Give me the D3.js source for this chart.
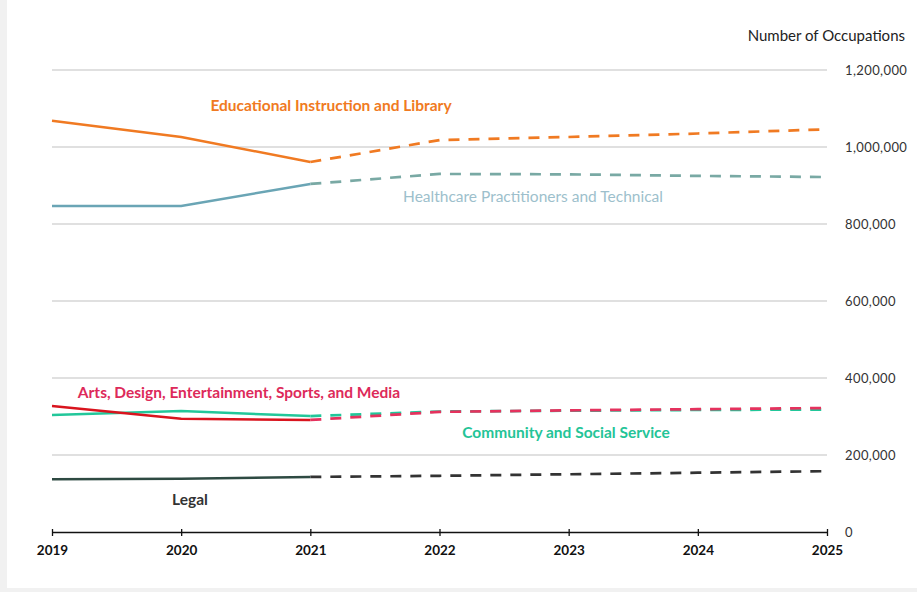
<!DOCTYPE html>
<html>
<head>
<meta charset="utf-8">
<script src="https://cdn.jsdelivr.net/npm/d3@7"></script>
<style>
  html, body { margin: 0; padding: 0; background: #f1f1f1; }
  svg { display: block; }
</style>
</head>
<body>
<svg id="chart" width="917" height="592"></svg>
<script>
const years = [2019, 2020, 2021, 2022, 2023, 2024, 2025];
const yTicks = [0, 200000, 400000, 600000, 800000, 1000000, 1200000];

const educational = [1068000, 1026000, 961000, 1018000, 1026000, 1035000, 1046000];
const healthcare  = [847000, 847000, 904000, 930000, 929000, 925000, 922000];
const arts        = [327000, 294000, 291000, 312000, 316000, 319000, 322000];
const community   = [304000, 314000, 301000, 313000, 315000, 317000, 318000];
const legal       = [137000, 138000, 143000, 146000, 150000, 154000, 158000];

const seriesNames = [
  "Educational Instruction and Library",
  "Healthcare Practitioners and Technical",
  "Arts, Design, Entertainment, Sports, and Media",
  "Community and Social Service",
  "Legal"
];
const actualLastYear = 2021;

const series = [
  { name: seriesNames[0], values: educational, color: "#f07a22", dashColor: "#f07a22", labelColor: "#f07a22", weight: "bold" },
  { name: seriesNames[1], values: healthcare,  color: "#6aa5b5", dashColor: "#79a9a4", labelColor: "#9dbfcc", weight: "normal" },
  { name: seriesNames[3], values: community,   color: "#22c79a", dashColor: "#22c79a", labelColor: "#24c497", weight: "bold" },
  { name: seriesNames[2], values: arts,        color: "#d9141e", dashColor: "#e5325e", labelColor: "#dd2a5a", weight: "bold" },
  { name: seriesNames[4], values: legal,       color: "#2e4a42", dashColor: "#333333", labelColor: "#333333", weight: "bold" }
];

const svg = d3.select("#chart");
svg.append("rect").attr("x", 7).attr("y", 0).attr("width", 910).attr("height", 588).attr("fill", "#ffffff");

const x = d3.scaleLinear().domain([2019, 2025]).range([52, 827]);
const y = d3.scaleLinear().domain([0, 1200000]).range([532, 70]);

const font = "Lato, 'Open Sans', sans-serif";

// gridlines
svg.append("g").selectAll("line")
  .data(yTicks.filter(d => d > 0))
  .join("line")
  .attr("x1", x(2019)).attr("x2", x(2025))
  .attr("y1", d => y(d)).attr("y2", d => y(d))
  .attr("stroke", "#d6d6d6").attr("stroke-width", 1.3);

// right tick labels
svg.append("g").selectAll("text")
  .data(yTicks)
  .join("text")
  .attr("x", 845).attr("y", d => y(d)).attr("dy", "0.35em")
  .attr("font-family", font).attr("font-size", 13).attr("letter-spacing", 0.4).attr("fill", "#333")
  .text(d => d3.format(",")(d));

svg.append("text")
  .attr("x", 905).attr("y", 41).attr("text-anchor", "end")
  .attr("font-family", font).attr("font-size", 15).attr("fill", "#222")
  .text("Number of Occupations");

// x axis
const xAxis = d3.axisBottom(x).tickValues(years).tickFormat(d3.format("d")).tickSize(5).tickSizeOuter(0);
const gx = svg.append("g").attr("transform", `translate(0,${y(0)})`).call(xAxis);
gx.select(".domain").attr("stroke", "#111").attr("stroke-width", 1.6);
gx.selectAll(".tick line").attr("stroke", "#111").attr("stroke-width", 1.3).attr("y1", -3).attr("y2", 4);
gx.selectAll(".tick text")
  .attr("font-family", font).attr("font-size", 13.5).attr("font-weight", "bold").attr("fill", "#111").attr("y", 13);

// lines
const line = d3.line().x(d => x(d.year)).y(d => y(d.value));
series.forEach(s => {
  const pts = years.map((yr, i) => ({ year: yr, value: s.values[i] }));
  const actual = pts.filter(p => p.year <= actualLastYear);
  const proj = pts.filter(p => p.year >= actualLastYear);
  svg.append("path").datum(proj).attr("d", line)
    .attr("fill", "none").attr("stroke", s.dashColor).attr("stroke-width", 2.7)
    .attr("stroke-dasharray", "11,9");
  svg.append("path").datum(actual).attr("d", line)
    .attr("fill", "none").attr("stroke", s.color).attr("stroke-width", 2.5);
});

// labels
const labelPos = [
  { i: 0, cx: 331, cy: 106 },
  { i: 1, cx: 533, cy: 197 },
  { i: 3, cx: 239, cy: 393 },
  { i: 2, cx: 566, cy: 433 },
  { i: 4, cx: 190, cy: 500 }
];
labelPos.forEach(l => {
  const s = series[l.i];
  svg.append("text")
    .attr("x", l.cx).attr("y", l.cy).attr("dy", "0.35em").attr("text-anchor", "middle")
    .attr("font-family", font).attr("font-size", 15.5).attr("font-weight", s.weight)
    .attr("fill", s.labelColor)
    .text(s.name);
});
</script>
</body>
</html>
